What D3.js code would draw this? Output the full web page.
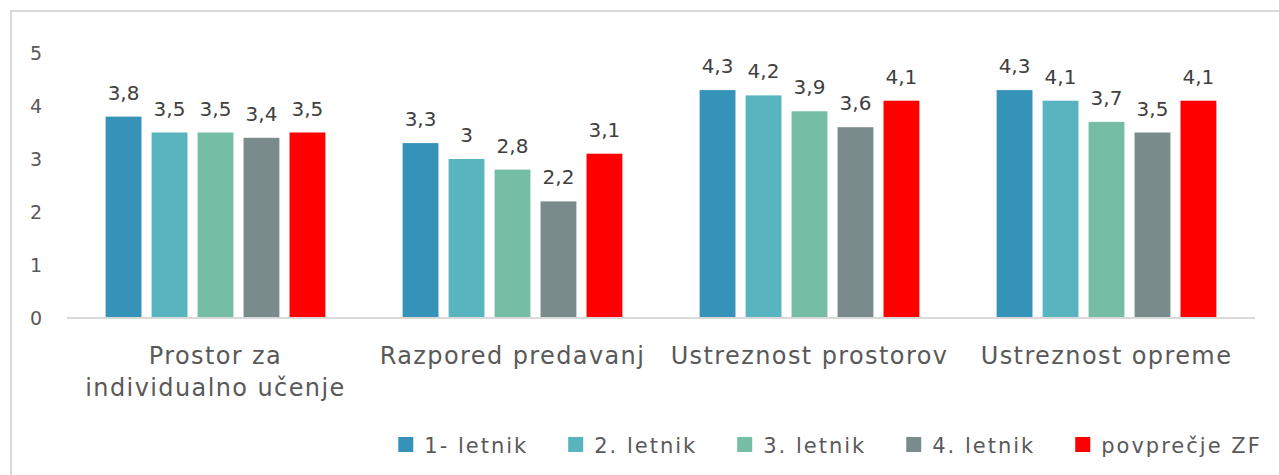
<!DOCTYPE html>
<html>
<head>
<meta charset="utf-8">
<script src="https://cdn.jsdelivr.net/npm/d3@7"></script>
<style>
  html, body { margin: 0; padding: 0; background: #fff; }
  svg text { font-family: "DejaVu Sans", sans-serif; }
</style>
</head>
<body>
<div id="chart"></div>
<script>
var categories = ["Prostor za individualno učenje", "Razpored predavanj", "Ustreznost prostorov", "Ustreznost opreme"];
var seriesNames = ["1- letnik", "2. letnik", "3. letnik", "4. letnik", "povprečje ZF"];
var letnik1 = [3.8, 3.3, 4.3, 4.3];
var letnik2 = [3.5, 3.0, 4.2, 4.1];
var letnik3 = [3.5, 2.8, 3.9, 3.7];
var letnik4 = [3.4, 2.2, 3.6, 3.5];
var povprecje = [3.5, 3.1, 4.1, 4.1];
var yTicks = [0, 1, 2, 3, 4, 5];

var seriesValues = [letnik1, letnik2, letnik3, letnik4, povprecje];
var colors = ["#3592b8", "#58b4bf", "#76bda6", "#7a8b8c", "#ff0000"];

var width = 1279, height = 475;

var svg = d3.select("#chart").append("svg")
    .attr("width", width)
    .attr("height", height);

// chart frame (right and bottom edges are cut off)
svg.append("rect")
    .attr("x", 11).attr("y", 11)
    .attr("width", 1300).attr("height", 500)
    .attr("fill", "none")
    .attr("stroke", "#d9d9d9")
    .attr("stroke-width", 2);

var x0 = d3.scaleBand()
    .domain(categories)
    .range([67, 1255]);

var x1 = d3.scaleBand()
    .domain(seriesNames)
    .range([0, x0.bandwidth()])
    .paddingInner(0.22)
    .paddingOuter(0.84);

var y = d3.scaleLinear()
    .domain([0, 5])
    .range([318, 53]);

/* y tick labels */
var yAxis = svg.append("g").attr("class", "y-axis");
yAxis.selectAll("text")
    .data(yTicks)
    .enter().append("text")
    .attr("x", 42)
    .attr("y", function(d) { return y(d); })
    .attr("dy", "0.36em")
    .attr("text-anchor", "end")
    .attr("font-size", "19px")
    .attr("fill", "#595959")
    .text(function(d) { return d; });

/* bars */
var rows = categories.map(function(c, i) {
    return seriesNames.map(function(s, j) {
        return { cat: c, series: s, value: seriesValues[j][i], color: colors[j] };
    });
});

var groups = svg.selectAll(".group")
    .data(rows)
    .enter().append("g")
    .attr("class", "group")
    .attr("transform", function(d, i) { return "translate(" + x0(categories[i]) + ",0)"; });

groups.selectAll("rect")
    .data(function(d) { return d; })
    .enter().append("rect")
    .attr("x", function(d) { return x1(d.series); })
    .attr("y", function(d) { return y(d.value); })
    .attr("width", x1.bandwidth())
    .attr("height", function(d) { return y(0) - y(d.value); })
    .attr("fill", function(d) { return d.color; });

groups.selectAll(".lbl")
    .data(function(d) { return d; })
    .enter().append("text")
    .attr("class", "lbl")
    .attr("x", function(d) { return x1(d.series) + x1.bandwidth() / 2; })
    .attr("y", function(d) { return y(d.value) - 17; })
    .attr("text-anchor", "middle")
    .attr("font-size", "20px")
    .attr("fill", "#404040")
    .text(function(d) { return String(d.value).replace(".", ","); });

// baseline
svg.append("line")
    .attr("x1", 67).attr("x2", 1255)
    .attr("y1", y(0)).attr("y2", y(0))
    .attr("stroke", "#d9d9d9")
    .attr("stroke-width", 2);

/* category labels */
var catLines = {
    "Prostor za individualno učenje": ["Prostor za", "individualno učenje"]
};
categories.forEach(function(c) {
    var lines = catLines[c] || [c];
    var t = svg.append("text")
        .attr("text-anchor", "middle")
        .attr("font-size", "24px")
        .attr("letter-spacing", "1.4px")
        .attr("fill", "#595959");
    lines.forEach(function(l, k) {
        t.append("tspan")
            .attr("x", x0(c) + x0.bandwidth() / 2)
            .attr("y", 364 + k * 32)
            .text(l);
    });
});

/* legend */
var legend = svg.append("g").attr("class", "legend");
var items = legend.selectAll("g")
    .data(seriesNames)
    .enter().append("g");

items.append("rect")
    .attr("width", 15).attr("height", 15)
    .attr("y", 437)
    .attr("fill", function(d, i) { return colors[i]; });

items.append("text")
    .attr("x", 26)
    .attr("y", 453)
    .attr("font-size", "21px")
    .attr("letter-spacing", "2px")
    .attr("fill", "#595959")
    .text(function(d) { return d; });

var lx = 0;
var offsets = [];
items.each(function() {
    offsets.push(lx);
    lx += 26 + d3.select(this).select("text").node().getComputedTextLength() + 40;
});
var total = lx - 40;
var startX = 830 - total / 2;
items.attr("transform", function(d, i) { return "translate(" + (startX + offsets[i]) + ",0)"; });
</script>
</body>
</html>
